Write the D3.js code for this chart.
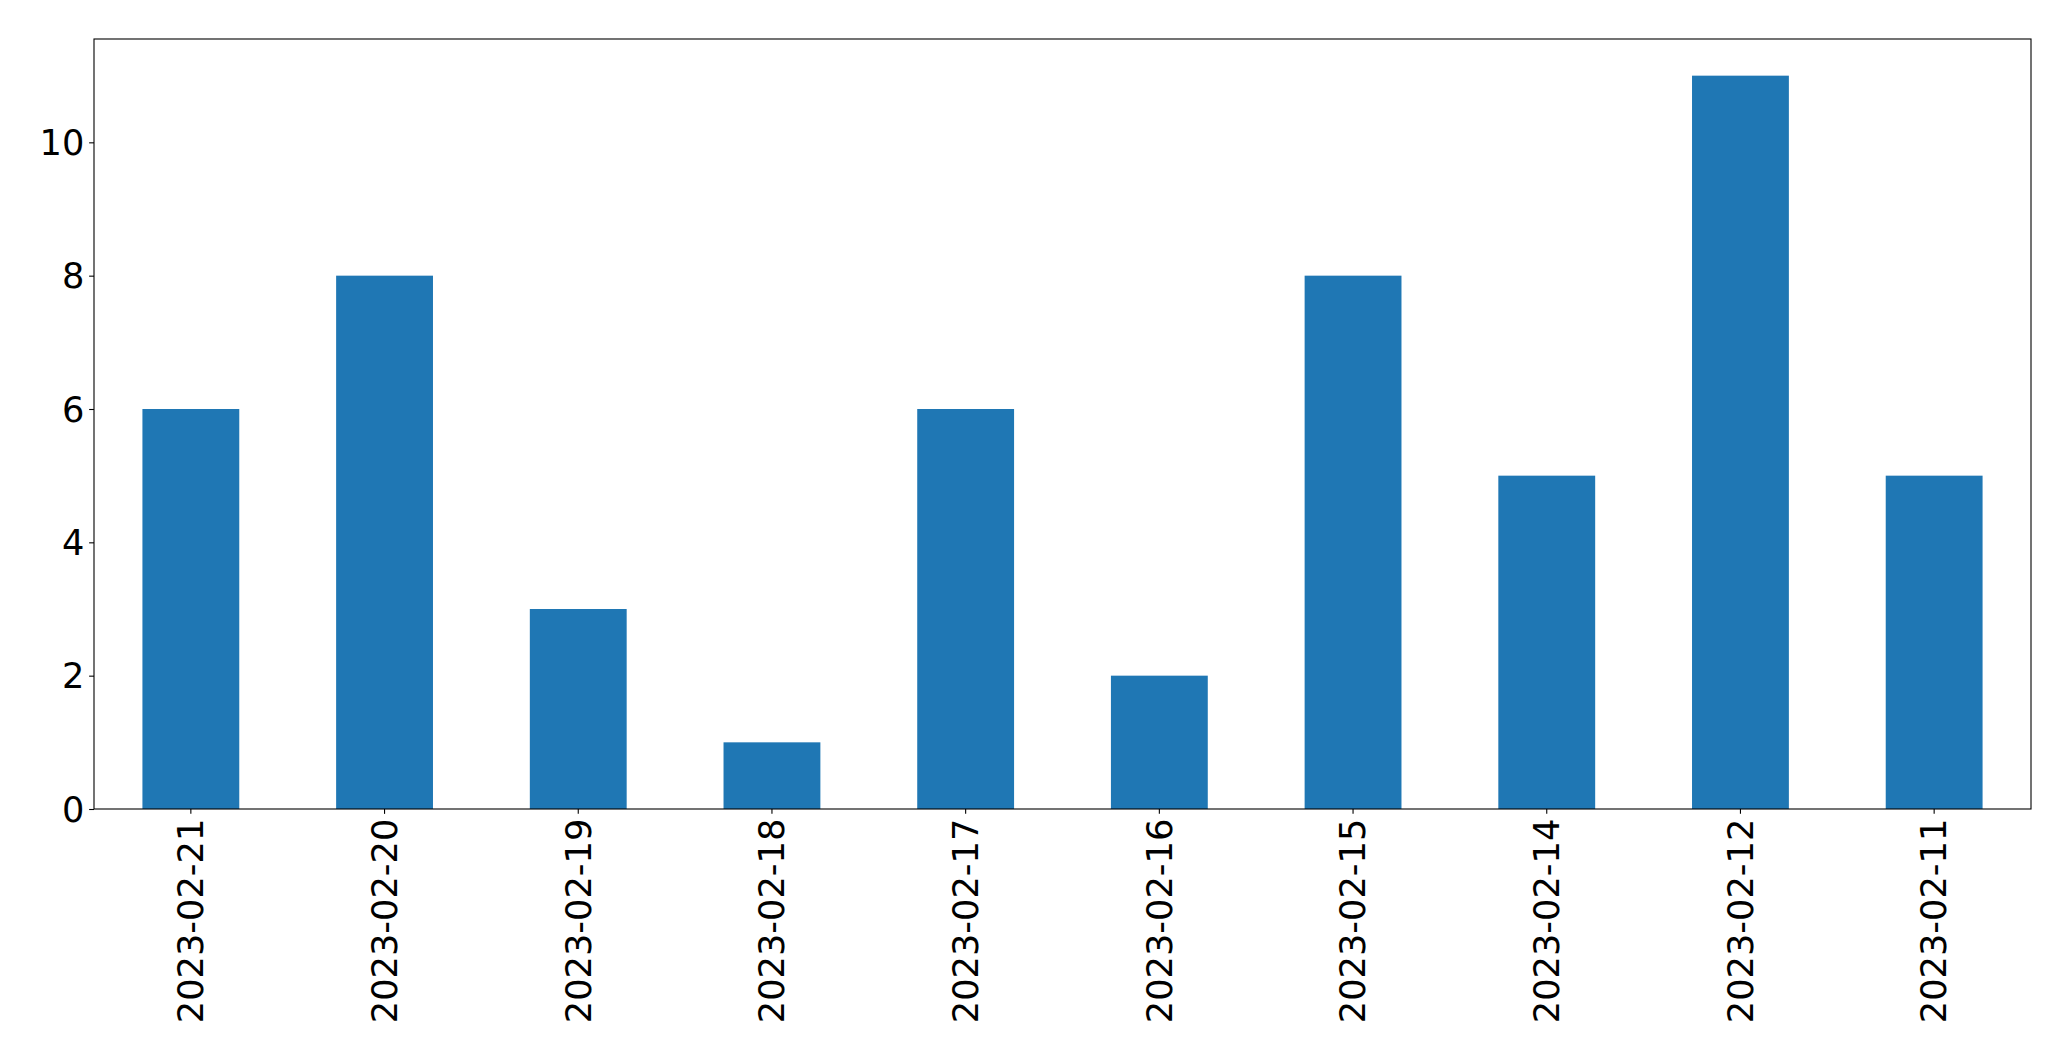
<!DOCTYPE html>
<html>
<head>
<meta charset="utf-8">
<script src="https://cdn.jsdelivr.net/npm/d3@7/dist/d3.min.js"></script>
<style>
  html, body { margin: 0; padding: 0; background: #fff; }
  svg { display: block; }
  text { font-family: "DejaVu Sans", sans-serif; fill: #000; }
</style>
</head>
<body>
<script>
const categories = ["2023-02-21", "2023-02-20", "2023-02-19", "2023-02-18", "2023-02-17",
                    "2023-02-16", "2023-02-15", "2023-02-14", "2023-02-12", "2023-02-11"];
const values = [6, 8, 3, 1, 6, 2, 8, 5, 11, 5];
const yTicks = [0, 2, 4, 6, 8, 10];

const W = 2071, H = 1061;
const margin = { left: 94, top: 39, right: W - 2031, bottom: H - 809 };
const iw = W - margin.left - margin.right;
const ih = H - margin.top - margin.bottom;
const fontSize = 35.2;
const tickLen = 4.86, pad = 4.86;

const svg = d3.select("body").append("svg").attr("width", W).attr("height", H);
const g = svg.append("g").attr("transform", `translate(${margin.left},${margin.top})`);

const x = d3.scaleBand().domain(categories).range([0, iw]).paddingInner(0.5).paddingOuter(0.25);
const y = d3.scaleLinear().domain([0, d3.max(values) * 1.05]).range([ih, 0]);

g.selectAll("rect.bar").data(values).join("rect")
  .attr("class", "bar")
  .attr("x", (d, i) => x(categories[i]))
  .attr("width", x.bandwidth())
  .attr("y", d => y(d))
  .attr("height", d => y(0) - y(d))
  .attr("fill", "#1f77b4");

// Y axis
const yAxis = g.append("g").call(d3.axisLeft(y).tickValues(yTicks).tickSize(tickLen).tickPadding(pad).tickFormat(d3.format("d")));
yAxis.select(".domain").remove();
yAxis.selectAll("line").attr("stroke", "#000").attr("stroke-width", 1.1);
yAxis.selectAll("text").style("font-size", fontSize + "px").attr("dy", "0.35em");

// X axis
const xAxis = g.append("g").attr("transform", `translate(0,${ih})`)
  .call(d3.axisBottom(x).tickSize(tickLen).tickPadding(pad));
xAxis.select(".domain").remove();
xAxis.selectAll("line").attr("stroke", "#000").attr("stroke-width", 1.1);
xAxis.selectAll("text")
  .style("font-size", fontSize + "px")
  .attr("text-anchor", "end")
  .attr("transform", `translate(0,${tickLen + pad}) rotate(-90)`)
  .attr("x", 0).attr("y", 0).attr("dy", "0.35em");

// Frame
g.append("rect").attr("x", 0).attr("y", 0).attr("width", iw).attr("height", ih)
  .attr("fill", "none").attr("stroke", "#000").attr("stroke-width", 1.1);
</script>
</body>
</html>
